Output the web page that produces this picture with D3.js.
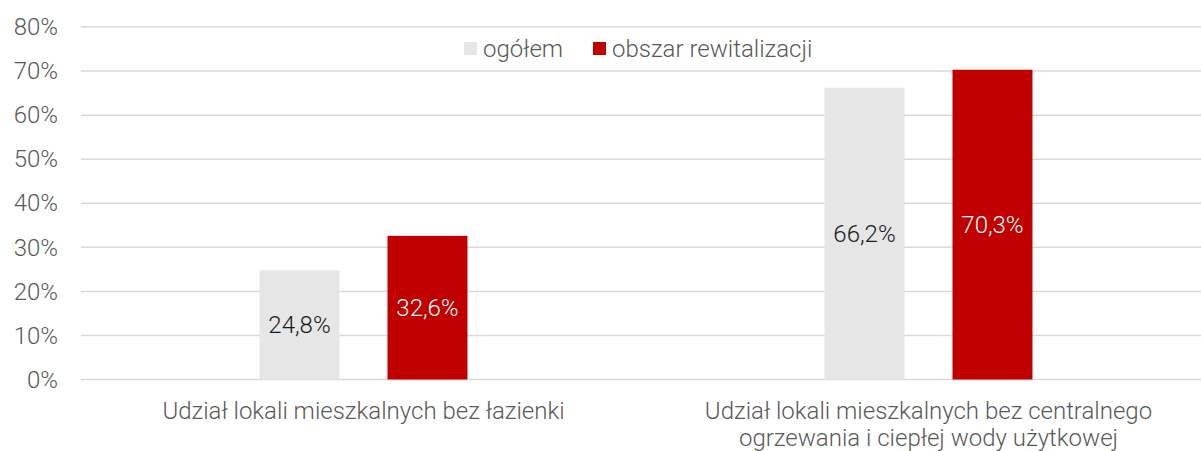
<!DOCTYPE html>
<html>
<head>
<meta charset="utf-8">
<script src="https://cdn.jsdelivr.net/npm/d3@7"></script>
<style>
body { margin: 0; background: #fff; overflow: hidden; }
svg { display: block; }
text { font-family: Roboto, "Noto Sans", sans-serif; font-weight: 300; }
</style>
</head>
<body>
<div id="chart"></div>
<script>
// data
var categories = [
    ['Udział lokali mieszkalnych bez łazienki'],
    ['Udział lokali mieszkalnych bez centralnego', 'ogrzewania i ciepłej wody użytkowej']
];
var seriesNames = ['ogółem', 'obszar rewitalizacji'];
var ogolem = [24.8, 66.2];
var obszar = [32.6, 70.3];
var yTicks = [0, 10, 20, 30, 40, 50, 60, 70, 80];

var colors = ['#e6e6e6', '#c00000'];
var labelColors = ['#1a1a1a', '#ffffff'];
var fs = '24px';

var dim = { width: 1201, height: 451 };
var svg = d3.select('#chart').append('svg')
    .attr('width', dim.width)
    .attr('height', dim.height);

var xScale = d3.scaleBand()
    .domain(d3.range(categories.length))
    .range([81, 1211]);

var inner = d3.scaleBand()
    .domain(d3.range(seriesNames.length))
    .range([0, xScale.bandwidth()])
    .paddingInner(0.375)
    .paddingOuter(1.395);

var yScale = d3.scaleLinear()
    .domain([0, 80])
    .range([379.5, 27]);

// grid
svg.append('g').selectAll('line')
    .data(yTicks)
    .enter().append('line')
    .attr('x1', 81)
    .attr('x2', 1211)
    .attr('y1', d => yScale(d))
    .attr('y2', d => yScale(d))
    .attr('stroke', '#d9d9d9')
    .attr('stroke-width', 1.5);

// y axis labels
var yAxis = d3.axisLeft(yScale)
    .tickValues(yTicks)
    .tickFormat(d => d + '%')
    .tickSize(0)
    .tickPadding(0);
var yg = svg.append('g')
    .attr('transform', 'translate(58,0)')
    .call(yAxis);
yg.select('.domain').remove();
yg.selectAll('text')
    .attr('fill', '#595959')
    .style('font-size', fs)
    .style('font-family', 'Roboto')
    .style('font-weight', 300);

// bars
var table = categories.map((c, i) => [ogolem[i], obszar[i]]);

var groups = svg.append('g').selectAll('g')
    .data(table)
    .enter().append('g')
    .attr('transform', (d, i) => 'translate(' + xScale(i) + ',0)');

groups.selectAll('rect')
    .data(d => d)
    .enter().append('rect')
    .attr('x', (d, j) => inner(j))
    .attr('width', inner.bandwidth())
    .attr('y', d => yScale(d))
    .attr('height', d => yScale(0) - yScale(d))
    .attr('fill', (d, j) => colors[j]);

groups.selectAll('text')
    .data(d => d)
    .enter().append('text')
    .attr('x', (d, j) => inner(j) + inner.bandwidth() / 2)
    .attr('y', d => (yScale(d) + yScale(0)) / 2)
    .attr('dy', '0.35em')
    .attr('text-anchor', 'middle')
    .attr('fill', (d, j) => labelColors[j])
    .style('font-size', fs)
    .text(d => d.toFixed(1).replace('.', ',') + '%');

// category labels
svg.append('g').selectAll('text')
    .data(categories)
    .enter().append('text')
    .attr('text-anchor', 'middle')
    .attr('fill', '#595959')
    .style('font-size', fs)
    .each(function (lines, i) {
        var t = d3.select(this);
        lines.forEach((l, k) => {
            t.append('tspan')
                .attr('x', xScale(i) + xScale.bandwidth() / 2)
                .attr('y', 419 + k * 27)
                .text(l);
        });
    });

// legend
var legendX = [464, 593];
var legend = svg.append('g').selectAll('g')
    .data(seriesNames)
    .enter().append('g')
    .attr('transform', (d, i) => 'translate(' + legendX[i] + ',42)');
legend.append('rect')
    .attr('width', 13)
    .attr('height', 13)
    .attr('fill', (d, i) => colors[i]);
legend.append('text')
    .attr('x', 19)
    .attr('y', 6.5)
    .attr('dy', '0.35em')
    .attr('fill', '#595959')
    .style('font-size', fs)
    .text(d => d);
</script>
</body>
</html>
